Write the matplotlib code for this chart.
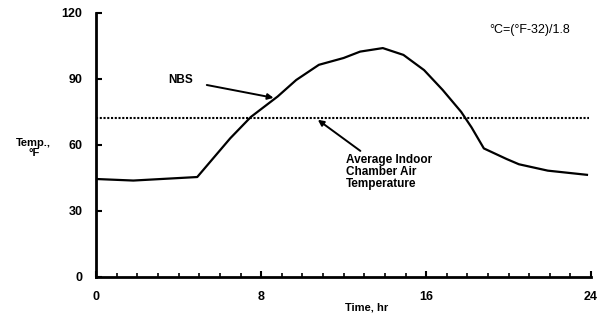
import numpy as np
import matplotlib.pyplot as plt

plt.rcParams['font.family'] = ['Liberation Sans', 'DejaVu Sans']

# Hourly chamber temperatures (NBS curve)
hours = [0, 1.8, 4.9, 6.5, 7.5, 8.8, 9.7, 10.8, 12.0, 12.8, 13.9, 14.9, 15.9,
         16.8, 17.7, 18.2, 18.8, 19.9, 20.5, 21.9, 23.8]
temp_f = [44.5, 43.8, 45.4, 63, 72.7, 82, 89.5, 96.4, 99.5, 102.4, 104, 100.9, 94,
          85, 75, 68, 58.4, 53.6, 51.2, 48.3, 46.4]
avg_indoor = 72.3

x_ticks = [0, 8, 16, 24]
y_ticks = [0, 30, 60, 90, 120]

fig = plt.figure(figsize=(6.05, 3.22), dpi=100)
ax = fig.add_axes([0.159, 0.140, 0.818, 0.820])

ax.plot(hours, temp_f, color='black', lw=1.6, solid_joinstyle='round')
ax.plot([0, 23.9], [avg_indoor, avg_indoor], color='black', lw=1.5, ls=(0, (1, 0.8)))

ax.set_xlim(0, 24)
ax.set_ylim(0, 120)
ax.spines['top'].set_visible(False)
ax.spines['right'].set_visible(False)
ax.spines['left'].set_linewidth(2)
ax.spines['bottom'].set_linewidth(2)

ax.set_xticks(x_ticks)
ax.set_xticks(np.arange(0, 25, 1), minor=True)
ax.set_yticks(y_ticks)
ax.tick_params(axis='both', direction='in', length=4, width=1.5, labelsize=9, pad=10)
ax.tick_params(axis='x', which='minor', direction='in', length=3, width=1.2)
for lbl in ax.get_xticklabels() + ax.get_yticklabels():
    lbl.set_fontweight('bold')

ax.text(-0.126, 0.49, 'Temp.,\n\u00b0F', transform=ax.transAxes, ha='center', va='center',
        fontsize=8, fontweight='bold', linespacing=1.0)
ax.text(0.547, -0.115, 'Time, hr', transform=ax.transAxes, ha='center', va='center',
        fontsize=8, fontweight='bold')
ax.text(21.0, 112, '\u00b0C=(\u00b0F-32)/1.8', fontsize=9, ha='center', va='center')

ax.annotate('NBS', xy=(8.6, 81.4), xytext=(4.1, 89.5), fontsize=8.5, fontweight='bold',
            ha='center', va='center',
            arrowprops=dict(arrowstyle='-|>', color='black', lw=1.4, shrinkA=8, shrinkB=0))
ax.annotate('Average Indoor\nChamber Air\nTemperature', xy=(10.75, 71.4), xytext=(12.1, 56),
            fontsize=8.5, fontweight='bold', ha='left', va='top', linespacing=1.0,
            arrowprops=dict(arrowstyle='-|>', color='black', lw=1.4, shrinkA=0, shrinkB=0))

fig.savefig('out.png', dpi=100)
